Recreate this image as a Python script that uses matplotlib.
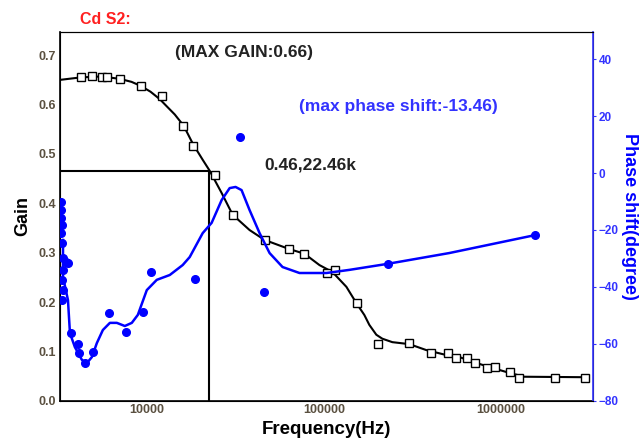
import matplotlib
matplotlib.use("Agg")
import matplotlib.pyplot as plt
from matplotlib.ticker import FixedLocator, NullLocator

plt.rcParams['font.family'] = ['Liberation Sans', 'DejaVu Sans']

# gain measurements (squares)
gain_freq = [4232, 4881, 5557, 5975, 7073, 9216, 12195, 16100, 18235, 24320,
             30630, 46200, 63100, 77620, 104200, 115600, 153000, 201000, 303000,
             402000, 502700, 560000, 638000, 711000, 830000, 925000, 1124000,
             1262000, 2014000, 2970000]
gain_vals = [0.655, 0.657, 0.656, 0.656, 0.651, 0.638, 0.617, 0.557, 0.516, 0.457,
             0.377, 0.326, 0.307, 0.297, 0.259, 0.265, 0.198, 0.116, 0.118,
             0.097, 0.097, 0.086, 0.087, 0.076, 0.067, 0.068, 0.059,
             0.047, 0.047, 0.047]

# gain fitted curve
gfit_freq = [3236, 4232, 5557, 7050, 8200, 9216, 10500, 11837, 13000, 14380, 16160,
             18235, 20700, 22650, 26460, 30520, 38030, 46200, 63100, 77620, 94400,
             111700, 133900, 152500, 169100, 180400, 197600, 213600, 243300, 303500,
             377900, 489800, 579600, 722800, 889800, 1109000, 1349000, 3013000]
gfit_vals = [0.650, 0.655, 0.657, 0.652, 0.646, 0.638, 0.626, 0.611, 0.596, 0.580,
             0.557, 0.520, 0.488, 0.466, 0.421, 0.377, 0.346, 0.326, 0.308, 0.298,
             0.275, 0.261, 0.231, 0.198, 0.174, 0.154, 0.134, 0.126, 0.119, 0.115,
             0.103, 0.093, 0.089, 0.077, 0.067, 0.057, 0.049, 0.048]

# phase measurements (dots)
phase_freq = [3270, 3270, 3270, 3319, 3270, 3319, 3370, 3497, 3590, 3370, 3319, 3370,
              3319, 3715, 4102, 4157, 4475, 4943, 6106, 7621, 9458, 10600, 18640,
              33730, 45640, 228700, 1555000]
phase_vals = [-10.2, -13.0, -15.8, -18.2, -21.1, -24.6, -29.8, -31.2, -31.6, -34.0,
              -37.5, -41.1, -44.6, -56.2, -60.0, -63.1, -66.8, -62.9, -49.0, -55.8,
              -48.9, -34.7, -37.2, 12.6, -41.7, -31.9, -21.8]

# phase fitted curve
pfit_freq = [3365, 3365, 3589, 3683, 3926, 4303, 4592, 4898, 5224, 5650, 6190, 6774,
             7515, 8230, 8900, 10000, 11385, 13480, 15950, 17470, 20680, 23230, 26460,
             29360, 31700, 34280, 38030, 43330, 49340, 58390, 72780, 103300, 139300,
             228000, 509600, 1555000]
pfit_vals = [-23.5, -36.5, -44.6, -56.2, -61.1, -65.6, -66.7, -64.6, -59.7, -55.1, -52.6,
             -52.6, -53.7, -52.6, -49.8, -41.1, -37.5, -35.8, -32.3, -29.5, -21.1, -17.5,
             -9.5, -5.3, -4.9, -6.0, -13.0, -21.1, -28.1, -33.0, -35.1, -35.1, -34.0,
             -31.9, -28.1, -21.8]

mark_freq, mark_gain = 22460, 0.466
x_ticks = [10000, 100000, 1000000]
x_tick_labels = ['10000', '100000', '1000000']
y_ticks = [0.0, 0.1, 0.2, 0.3, 0.4, 0.5, 0.6, 0.7]
phase_ticks = [-80, -60, -40, -20, 0, 20, 40]

fig = plt.figure(figsize=(6.41, 4.44), dpi=100)
ax = fig.add_axes([0.0936, 0.097, 0.8314, 0.831])
ax2 = ax.twinx()

ax.set_xscale('log')
ax.set_xlim(3236, 3.3e6)
ax.set_ylim(0, 0.747)
ax2.set_ylim(-80, 49.5)

# cross-hair at the -3dB point
ax.plot([3236, mark_freq], [mark_gain, mark_gain], color='black', lw=1.5, zorder=2)
ax.plot([mark_freq, mark_freq], [0, mark_gain], color='black', lw=1.5, zorder=2)

ax.plot(gfit_freq, gfit_vals, color='black', lw=1.5, zorder=3)
ax.plot(gain_freq, gain_vals, ls='none', marker='s', ms=6, mfc='white',
        mec='black', mew=1.0, zorder=4)

ax2.plot(pfit_freq, pfit_vals, color='#0000ff', lw=1.8, zorder=3)
ax2.plot(phase_freq, phase_vals, ls='none', marker='o', ms=5.5, color='#0000ff', zorder=4)

ax.xaxis.set_major_locator(FixedLocator(x_ticks))
ax.set_xticklabels(x_tick_labels)
ax.xaxis.set_minor_locator(NullLocator())
ax.set_yticks(y_ticks)
ax.set_yticklabels([f'{v:.1f}' for v in y_ticks])
ax.tick_params(axis='both', length=0, labelsize=9, labelcolor='#5a5040', pad=3)
ax.tick_params(axis='x', pad=2)
for lab in ax.get_xticklabels() + ax.get_yticklabels():
    lab.set_fontweight('bold')

ax2.set_yticks(phase_ticks)
ax2.tick_params(axis='y', length=2, labelsize=8.5, colors='#3333ff', pad=2)
for lab in ax2.get_yticklabels():
    lab.set_fontweight('bold')

ax.spines['left'].set_linewidth(1.2)
ax.spines['bottom'].set_linewidth(1.2)
ax.spines['top'].set_linewidth(0.8)
ax2.spines['right'].set_color('#3333ff')
ax2.spines['right'].set_linewidth(1.2)

ax.set_xlabel('Frequency(Hz)', fontsize=13.5, fontweight='bold', labelpad=4)
ax.set_ylabel('Gain', fontsize=13, fontweight='bold', labelpad=5)
ax2.set_ylabel('Phase shift(degree)', fontsize=13, fontweight='bold',
               color='#0000ff', rotation=270, labelpad=14)

ax.text(0.038, 1.035, 'Cd S2:', transform=ax.transAxes, color='#ff2020',
        fontsize=11.5, fontweight='bold', va='center', ha='left')
ax.text(14380, 0.706, '(MAX GAIN:0.66)', fontsize=12.5, fontweight='bold',
        color='#222222', va='center', ha='left')
ax.text(46200, 0.478, '0.46,22.46k', fontsize=12.5, fontweight='bold',
        color='#222222', va='center', ha='left')
ax2.text(72780, 23.5, '(max phase shift:-13.46)', fontsize=12.5, fontweight='bold',
         color='#3333ff', va='center', ha='left')

fig.savefig('out.png', dpi=100)
